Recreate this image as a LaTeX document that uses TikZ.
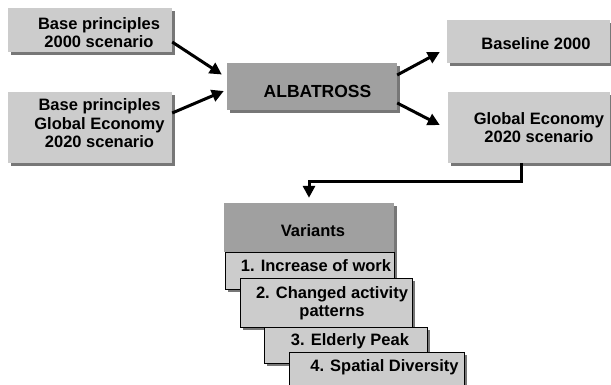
\documentclass[tikz,border=0pt]{standalone}
\usepackage{fontspec}
\setmainfont{Liberation Sans}
\usetikzlibrary{arrows.meta,shadows}
\definecolor{boxlight}{HTML}{CCCCCC}
\definecolor{boxdark}{HTML}{A0A0A0}
\definecolor{shadowc}{HTML}{777777}
\begin{document}
\begin{tikzpicture}[x=1pt,y=-1pt,
  box/.style={rectangle, inner sep=0pt, fill=boxlight,
    drop shadow={shadow xshift=3pt,shadow yshift=-3pt,fill=shadowc,opacity=1}},
  dbox/.style={box, fill=boxdark},
  itembox/.style={box, draw=black, line width=0.8pt},
  txt/.style={font=\bfseries\fontsize{16.5}{18.5}\selectfont, align=center, inner sep=0pt},
  arr/.style={line width=3pt, -{Triangle[length=12pt,width=12pt]}},
]
\useasboundingbox (0,0) rectangle (611,385);
\clip (0,0) rectangle (611,385);

\node[box, minimum width=164pt, minimum height=44pt,
  label={[txt,xshift=9pt,yshift=-2.5pt]center:{Base principles\\2000 scenario}}] (b1) at (90,30) {};
\node[box, minimum width=164pt, minimum height=71pt,
  label={[txt,xshift=9.5pt,yshift=4pt]center:{Base principles\\Global Economy\\2020 scenario}}] (b2) at (90,127.5) {};
\node[dbox, minimum width=170pt, minimum height=47pt,
  label={[txt,font=\bfseries\fontsize{17.5}{20}\selectfont,xshift=5.5pt,yshift=-4.5pt]center:{ALBATROSS}}] (alb) at (312,86.5) {};
\node[box, minimum width=163pt, minimum height=43pt,
  label={[txt,xshift=7.5pt,yshift=-2.5pt]center:{Baseline 2000}}] (base) at (528.5,41.5) {};
\node[box, minimum width=162pt, minimum height=71pt,
  label={[txt,xshift=10pt,yshift=0pt]center:{Global Economy\\2020 scenario}}] (ge) at (529,127.5) {};

\node[dbox, minimum width=170pt, minimum height=49pt,
  label={[txt,xshift=4pt,yshift=-3.5pt]center:{Variants}}] (var) at (309,227.5) {};
\node[itembox, minimum width=169pt, minimum height=37pt,
  label={[txt,xshift=6.5pt,yshift=5pt]center:{1. Increase of work}}] (i1) at (309.5,270.5) {};
\node[itembox, minimum width=172pt, minimum height=49pt,
  label={[txt,xshift=6pt,yshift=-0.5pt]center:{2. Changed activity\\patterns}}] (i2) at (326,302.5) {};
\node[itembox, minimum width=163pt, minimum height=36pt,
  label={[txt,xshift=4.5pt,yshift=4pt]center:{3. Elderly Peak}}] (i3) at (345.5,345) {};
\node[itembox, minimum width=175pt, minimum height=40pt,
  label={[txt,xshift=8pt,yshift=5pt]center:{4. Spatial Diversity}}] (i4) at (376.5,372) {};

\draw[arr] ([yshift=-12pt]b1.east) -- ([xshift=-5pt,yshift=12pt]alb.west);
\draw[arr] ([yshift=14.5pt]b2.east) -- ([xshift=-3pt,yshift=-4.5pt]alb.west);
\draw[arr] ([yshift=11.5pt]alb.east) -- ([xshift=-7pt,yshift=-10.5pt]base.west);
\draw[arr] ([yshift=-16.5pt]alb.east) -- ([xshift=-8pt,yshift=2.5pt]ge.west);
\draw[arr] ([xshift=-8pt]ge.south) -- ++(0,18) -| ([yshift=5pt]var.north);
\end{tikzpicture}
\end{document}
